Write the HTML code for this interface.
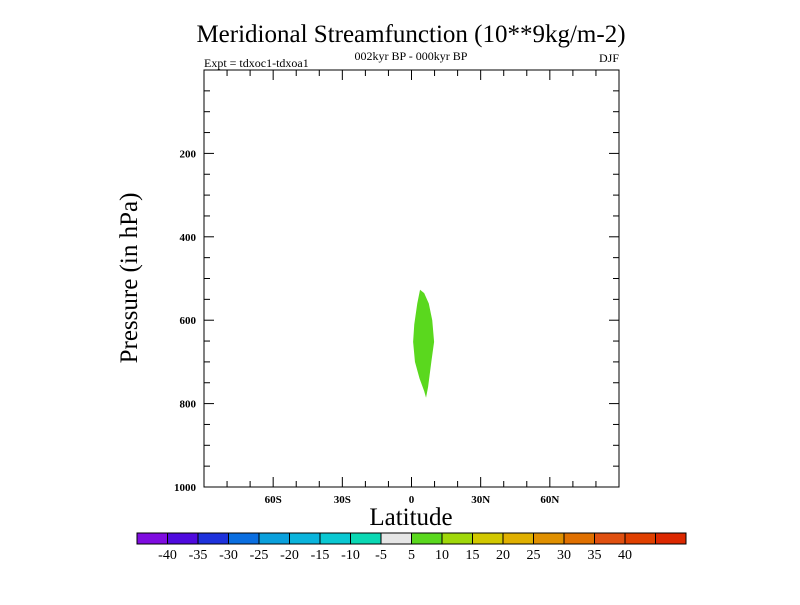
<!DOCTYPE html>
<html><head><meta charset="utf-8"><style>
body{margin:0;background:#fff}
svg text{font-family:"Liberation Serif",serif;fill:#000}
</style></head><body>
<svg width="800" height="600" viewBox="0 0 800 600">
<text x="411" y="42" font-size="25" text-anchor="middle">Meridional Streamfunction (10**9kg/m-2)</text>
<text x="411" y="60" font-size="12" text-anchor="middle">002kyr BP - 000kyr BP</text>
<text x="204" y="67" font-size="12">Expt = tdxoc1-tdxoa1</text>
<text x="619" y="62" font-size="12" text-anchor="end">DJF</text>
<g id="plot"></g>
<text x="411" y="525" font-size="25" text-anchor="middle">Latitude</text>
<text transform="translate(137,278) rotate(-90)" font-size="25" text-anchor="middle">Pressure (in hPa)</text>
<g id="cbar"></g>
</svg>
<script>
const xTicks=[-60,-30,0,30,60];
const xTickLabels=["60S","30S","0","30N","60N"];
const yTicks=[200,400,600,800,1000];
const shapeLat=[3.7,2.5,1.2,0.7,1.5,3.5,5.5,6.3,7.2,8.6,9.8,9.0,7.5,5.5];
const shapeP=[527,560,610,652,700,740,770,786,760,700,652,600,560,535];
const levels=[-40,-35,-30,-25,-20,-15,-10,-5,5,10,15,20,25,30,35,40];
const colors=["#7f0ce0","#4f0ade","#1e32dc","#0a6ee0","#0aa0dc","#0ab4dc","#0ac8d2","#0ad8b4","#e6e6e6","#5ad81e","#a0d80a","#d2c800","#e0b000","#e09000","#e07000","#e05010","#e04000","#dc2800"];
const NS="http://www.w3.org/2000/svg";
const L=204,R=619,T=70,B=487;
const xs=v=>L+(v+90)/180*(R-L);
const ys=p=>T+p/1000*(B-T);
function mk(t,a,parent){const e=document.createElementNS(NS,t);for(const k in a)e.setAttribute(k,a[k]);parent.appendChild(e);return e;}
const g=document.getElementById('plot');
const pts=shapeLat.map((v,i)=>xs(v)+","+ys(shapeP[i])).join(" ");
const poly=mk('polygon',{points:pts,fill:"#5ad81e"},g);


const frame=mk('rect',{x:L,y:T,width:R-L,height:B-T,fill:"none",stroke:"#000","stroke-width":1},g);


for(let v=-80;v<=80;v+=10){const x=xs(v);const len=(v%30===0)?10:6;
mk('line',{x1:x,x2:x,y1:B,y2:B-len,stroke:"#000"},g);mk('line',{x1:x,x2:x,y1:T,y2:T+len,stroke:"#000"},g);}
for(let p=50;p<1000;p+=50){const y=ys(p);const len=(p%200===0)?10:6;
mk('line',{x1:L,x2:L+len,y1:y,y2:y,stroke:"#000"},g);mk('line',{x1:R,x2:R-len,y1:y,y2:y,stroke:"#000"},g);}
xTicks.forEach((v,i)=>{const t=mk('text',{x:xs(v),y:503,"font-size":11,"text-anchor":"middle","font-weight":"bold"},g);t.textContent=xTickLabels[i];

});
yTicks.forEach(p=>{const t=mk('text',{x:196,y:ys(p)+4,"font-size":11,"text-anchor":"end","font-weight":"bold"},g);t.textContent=p;

});
const cb=document.getElementById('cbar');
const cx0=137,cx1=686,cy=533,ch=11,w=(cx1-cx0)/colors.length;
colors.forEach((c,i)=>{const r=mk('rect',{x:cx0+i*w,y:cy,width:w,height:ch,fill:c,stroke:"#000","stroke-width":1},cb);

});
levels.forEach((v,i)=>{const t=mk('text',{x:cx0+(i+1)*w,y:559,"font-size":14,"text-anchor":"middle"},cb);t.textContent=v;

});
</script>
</body></html>
